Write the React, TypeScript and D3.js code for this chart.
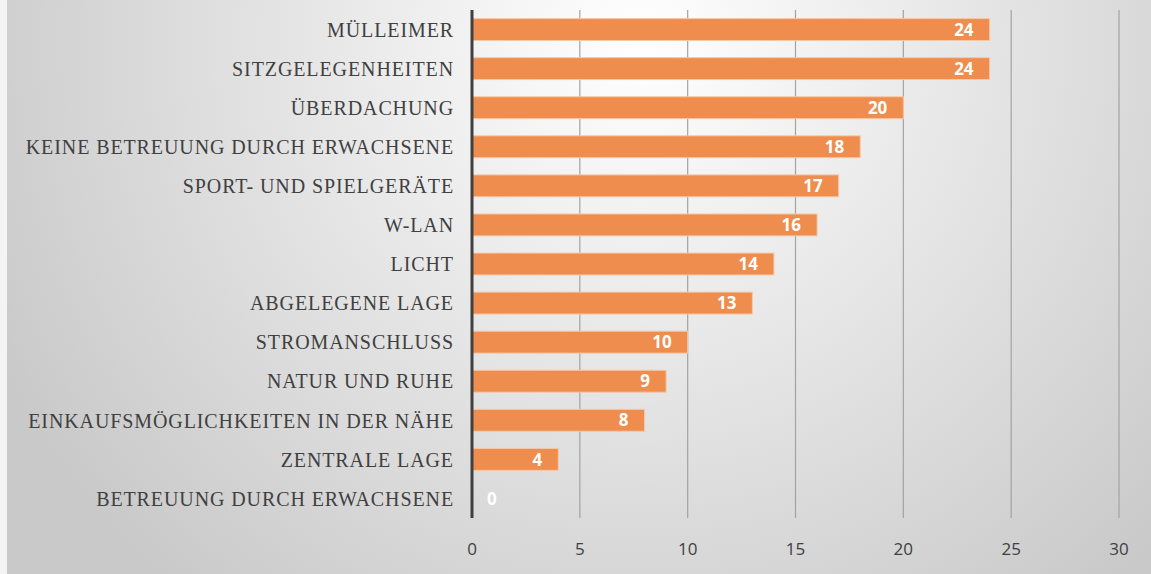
import { useEffect, useRef } from "react";
import * as d3 from "d3";

const categories = [
  "MÜLLEIMER",
  "SITZGELEGENHEITEN",
  "ÜBERDACHUNG",
  "KEINE BETREUUNG DURCH ERWACHSENE",
  "SPORT- UND SPIELGERÄTE",
  "W-LAN",
  "LICHT",
  "ABGELEGENE LAGE",
  "STROMANSCHLUSS",
  "NATUR UND RUHE",
  "EINKAUFSMÖGLICHKEITEN IN DER NÄHE",
  "ZENTRALE LAGE",
  "BETREUUNG DURCH ERWACHSENE",
];
const values = [24, 24, 20, 18, 17, 16, 14, 13, 10, 9, 8, 4, 0];
const xTicks = [0, 5, 10, 15, 20, 25, 30];

export default function App() {
  const ref = useRef<SVGSVGElement>(null);

  useEffect(() => {
    const W = 1151;
    const H = 574;
    const svg = d3.select(ref.current);
    svg.selectAll("*").remove();

    // Background with soft radial shading
    const defs = svg.append("defs");
    const grad = defs
      .append("radialGradient")
      .attr("id", "bg")
      .attr("gradientUnits", "userSpaceOnUse")
      .attr("cx", 640)
      .attr("cy", 40)
      .attr("r", 720);
    grad.append("stop").attr("offset", "0%").attr("stop-color", "#ffffff");
    grad.append("stop").attr("offset", "100%").attr("stop-color", "#c9c9c9");

    svg.append("rect").attr("width", W).attr("height", H).attr("fill", "#f4f4f4");
    svg
      .append("rect")
      .attr("x", 7)
      .attr("y", 0)
      .attr("width", W - 7)
      .attr("height", H)
      .attr("fill", "url(#bg)");

    const x = d3.scaleLinear().domain([0, 30]).range([472, 1119]);
    const y = d3
      .scaleBand<string>()
      .domain(categories)
      .range([10, 518])
      .paddingInner(0.44)
      .paddingOuter(0.22);

    // Grid lines
    svg
      .append("g")
      .selectAll("line")
      .data(xTicks.slice(1))
      .join("line")
      .attr("x1", (d) => x(d))
      .attr("x2", (d) => x(d))
      .attr("y1", 10)
      .attr("y2", 518)
      .attr("stroke", "#a3a3a3")
      .attr("stroke-width", 1.2);

    // Bars
    svg
      .append("g")
      .selectAll("rect")
      .data(values)
      .join("rect")
      .attr("x", x(0))
      .attr("y", (_, i) => y(categories[i])!)
      .attr("width", (d) => x(d) - x(0))
      .attr("height", y.bandwidth())
      .attr("fill", "#ee8d4d")
      .attr("stroke", "#f6c7a6")
      .attr("stroke-width", (d) => (d > 0 ? 1 : 0));

    // Value labels
    svg
      .append("g")
      .selectAll("text")
      .data(values)
      .join("text")
      .attr("x", (d) => (d > 0 ? x(d) - 16 : x(0) + 15))
      .attr("y", (_, i) => y(categories[i])! + y.bandwidth() / 2)
      .attr("dy", "0.36em")
      .attr("text-anchor", (d) => (d > 0 ? "end" : "start"))
      .attr("font-family", "'Open Sans', 'Noto Sans', sans-serif")
      .attr("font-weight", 700)
      .attr("font-size", 17)
      .attr("fill", "#ffffff")
      .text((d) => d);

    // Category axis line
    svg
      .append("line")
      .attr("x1", x(0))
      .attr("x2", x(0))
      .attr("y1", 10)
      .attr("y2", 518)
      .attr("stroke", "#404040")
      .attr("stroke-width", 3);

    // Category labels
    svg
      .append("g")
      .selectAll("text")
      .data(categories)
      .join("text")
      .attr("x", 454)
      .attr("y", (d) => y(d)! + y.bandwidth() / 2)
      .attr("dy", "0.36em")
      .attr("text-anchor", "end")
      .attr("font-family", "'Liberation Serif', 'Times New Roman', serif")
      .attr("font-size", 20)
      .attr("letter-spacing", 0.9)
      .attr("fill", "#404040")
      .text((d) => d);

    // X tick labels
    svg
      .append("g")
      .selectAll("text")
      .data(xTicks)
      .join("text")
      .attr("x", (d) => x(d))
      .attr("y", 549)
      .attr("dy", "0.36em")
      .attr("text-anchor", "middle")
      .attr("font-family", "'Open Sans', 'Noto Sans', sans-serif")
      .attr("font-size", 17)
      .attr("fill", "#404040")
      .text((d) => d);
  }, []);

  return (
    <svg
      ref={ref}
      width={1151}
      height={574}
      style={{ position: "absolute", left: 0, top: 0, display: "block" }}
    />
  );
}
